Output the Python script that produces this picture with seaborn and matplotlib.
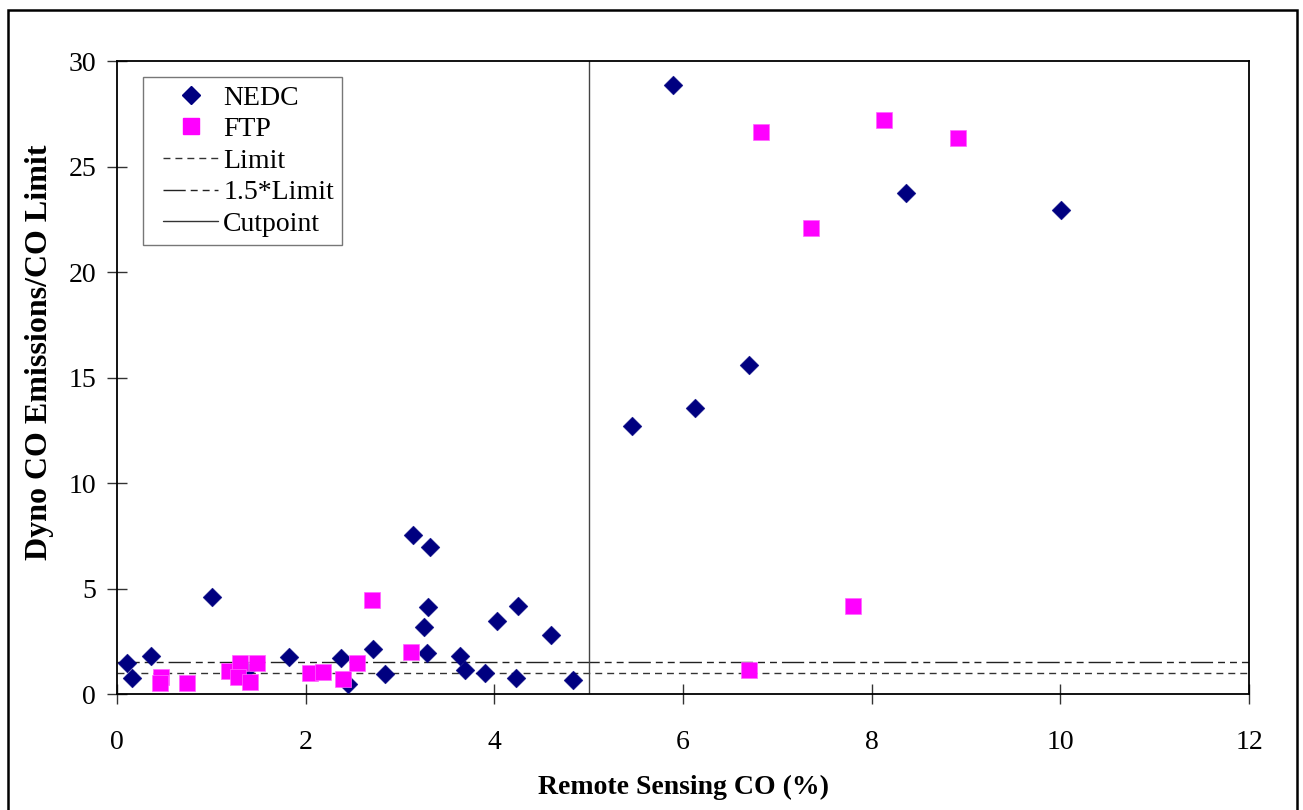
import matplotlib
matplotlib.use("Agg")
import matplotlib.pyplot as plt
import matplotlib.patches as mpatches
from matplotlib.lines import Line2D
from matplotlib.legend_handler import HandlerLine2D
import seaborn as sns
import pandas as pd

# ---- data ----
nedc_x = [0.11, 0.16, 0.36, 1.01, 1.82, 1.37, 2.37, 2.45, 2.71, 2.84, 3.30, 3.25, 3.29,
          3.64, 3.69, 3.90, 4.03, 4.25, 4.23, 4.60, 4.83, 3.14, 3.32, 5.46, 6.13, 6.70,
          5.89, 8.36, 10.01]
nedc_y = [1.48, 0.77, 1.80, 4.61, 1.74, 1.12, 1.71, 0.47, 2.15, 0.96, 4.14, 3.19, 1.94,
          1.80, 1.12, 0.99, 3.44, 4.17, 0.77, 2.81, 0.66, 7.52, 6.95, 12.70, 13.54, 15.58,
          28.88, 23.73, 22.92]
ftp_x = [0.47, 0.46, 0.74, 1.19, 1.30, 1.28, 1.48, 1.41, 2.05, 2.18, 2.40, 2.54, 2.70,
         3.12, 6.70, 7.80, 6.83, 8.13, 7.36, 8.92]
ftp_y = [0.82, 0.51, 0.54, 1.07, 1.45, 0.79, 1.48, 0.58, 0.98, 1.06, 0.70, 1.48, 4.45,
         2.01, 1.14, 4.17, 26.62, 27.19, 22.09, 26.37]
limit = 1.0
limit15 = 1.5
cutpoint = 5.0
x_ticks = [0, 2, 4, 6, 8, 10, 12]
y_ticks = [0, 5, 10, 15, 20, 25, 30]
series_names = ["NEDC", "FTP"]
line_names = ["Limit", "1.5*Limit", "Cutpoint"]
x_label = "Remote Sensing CO (%)"
y_label = "Dyno CO Emissions/CO Limit"

# ---- style ----
sns.set_style("ticks")
plt.rcParams["font.family"] = ["Liberation Serif", "DejaVu Serif"]
plt.rcParams["lines.scale_dashes"] = False
plt.rcParams["text.color"] = "black"
plt.rcParams["axes.labelcolor"] = "black"
plt.rcParams["xtick.labelcolor"] = "black"
plt.rcParams["ytick.labelcolor"] = "black"

NAVY = "#000080"
MAGENTA = "#FF00FF"

fig = plt.figure(figsize=(13.03, 8.10), dpi=100)
ax = fig.add_axes([117 / 1303, 1 - 694 / 810, (1249 - 117) / 1303, (694 - 61) / 810])

df_n = pd.DataFrame({"x": nedc_x, "y": nedc_y})
df_f = pd.DataFrame({"x": ftp_x, "y": ftp_y})

sns.scatterplot(data=df_n, x="x", y="y", marker="D", s=9.6 ** 2, color=NAVY,
                edgecolor=NAVY, linewidth=0.3, ax=ax, zorder=3, legend=False)
sns.scatterplot(data=df_f, x="x", y="y", marker="s", s=12.0 ** 2, color=MAGENTA,
                edgecolor="#FF66FF", linewidth=0.5, ax=ax, zorder=4, legend=False)

dash_limit = (0, (5.0, 3.6))
dash_15 = (0, (16.0, 3.6, 5.0, 3.6, 5.0, 3.6))
ax.axhline(limit, color="#333333", lw=1.0, linestyle=dash_limit, zorder=2)
ax.axhline(limit15, color="#222222", lw=1.0, linestyle=dash_15, zorder=2)
ax.axvline(cutpoint, color="#444444", lw=1.0, zorder=2)

ax.set_xlim(0, 12)
ax.set_ylim(0, 30)
ax.set_xticks(x_ticks)
ax.set_yticks(y_ticks)
ax.set_xticklabels([str(v) for v in x_ticks], fontsize=20)
ax.set_yticklabels([str(v) for v in y_ticks], fontsize=20)
ax.tick_params(axis="both", direction="inout", length=14, width=1.0, color="#333333")
ax.tick_params(axis="x", pad=19)
ax.tick_params(axis="y", pad=8)
for s in ax.spines.values():
    s.set_color("black")
    s.set_linewidth(1.3)

ax.set_xlabel(x_label, fontsize=20, fontweight="bold", labelpad=14)
ax.set_ylabel(y_label, fontsize=23, fontweight="bold")
ax.yaxis.set_label_coords(-0.056, 0.54)

handles = [
    Line2D([], [], marker="D", color=NAVY, linestyle="none", markersize=9.5),
    Line2D([], [], marker="s", color=MAGENTA, linestyle="none", markersize=11.5),
    Line2D([], [], color="#333333", lw=1.0, linestyle=dash_limit),
    Line2D([], [], color="#222222", lw=1.0, linestyle=dash_15),
    Line2D([], [], color="#333333", lw=1.0),
]
labels = series_names + line_names
hmap = {h: HandlerLine2D(xpad=0.43) for h in handles}
leg = ax.legend(handles, labels, loc="upper left", bbox_to_anchor=(0.023, 0.975),
                fontsize=20, frameon=True, fancybox=False, framealpha=1,
                edgecolor="#777777", handlelength=2.41, handletextpad=0.18,
                labelspacing=0.22, borderpad=0.3, borderaxespad=0, handler_map=hmap)
leg.get_frame().set_linewidth(1.0)

# outer border around the chart
fig.patches.append(mpatches.Rectangle((8 / 1303, -0.02), (1297 - 8) / 1303, 1.02 - 10 / 810,
                                      transform=fig.transFigure, fill=False,
                                      edgecolor="black", linewidth=1.8))

fig.savefig("out.png", dpi=100)
